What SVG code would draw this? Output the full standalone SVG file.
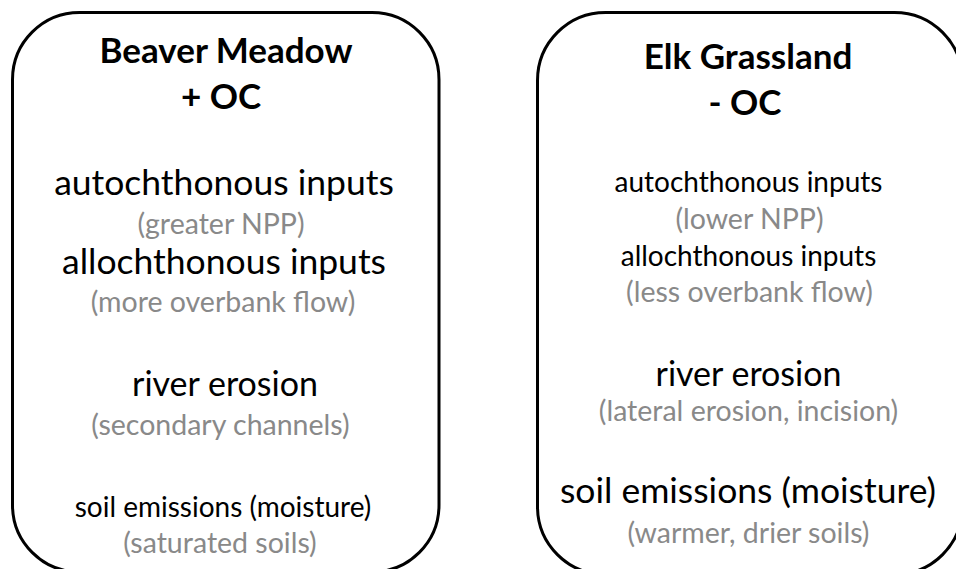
<svg xmlns="http://www.w3.org/2000/svg" width="956" height="569" viewBox="0 0 956 569">
  <style>
    .box { fill: #ffffff; stroke: #000000; stroke-width: 3; }
    text { font-family: Lato, "Liberation Sans", sans-serif; text-anchor: middle; }
    .title { font-weight: bold; font-size: 35px; fill: #000000; }
    .big { font-size: 35.5px; fill: #000000; }
    .mid { font-size: 34px; fill: #000000; }
    .small { font-size: 28px; fill: #000000; }
    .note { font-size: 28.5px; fill: #898989; }
  </style>
  <rect width="956" height="569" fill="#ffffff"/>

  <!-- Beaver meadow site: higher organic carbon -->
  <g id="beaver-meadow">
    <rect class="box" x="12.5" y="12.5" width="426.5" height="559.5" rx="67" ry="67"/>
    <text class="title" x="226" y="63">Beaver Meadow</text>
    <text class="title" x="221" y="109">+ OC</text>
    <text class="big" x="224" y="195">autochthonous inputs</text>
    <text class="note" x="221" y="234">(greater NPP)</text>
    <text class="big" x="224" y="274">allochthonous inputs</text>
    <text class="note" x="223" y="312">(more overbank flow)</text>
    <text class="mid" x="225" y="396">river erosion</text>
    <text class="note" x="220.5" y="435">(secondary channels)</text>
    <text class="small" x="223" y="517">soil emissions (moisture)</text>
    <text class="note" x="220" y="553">(saturated soils)</text>
  </g>

  <!-- Elk grassland site: lower organic carbon -->
  <g id="elk-grassland">
    <rect class="box" x="537.5" y="12.5" width="425" height="562" rx="68" ry="68"/>
    <text class="title" x="748" y="69">Elk Grassland</text>
    <text class="title" x="745" y="115">- OC</text>
    <text class="small" x="748.5" y="192">autochthonous inputs</text>
    <text class="note" x="749.5" y="229">(lower NPP)</text>
    <text class="small" x="748.5" y="266">allochthonous inputs</text>
    <text class="note" x="749.5" y="302">(less overbank flow)</text>
    <text class="mid" x="748.5" y="386">river erosion</text>
    <text class="note" x="748.5" y="421">(lateral erosion, incision)</text>
    <text class="big" x="748" y="503">soil emissions (moisture)</text>
    <text class="note" x="748.5" y="543">(warmer, drier soils)</text>
  </g>

  <g id="connectors"/>
</svg>
